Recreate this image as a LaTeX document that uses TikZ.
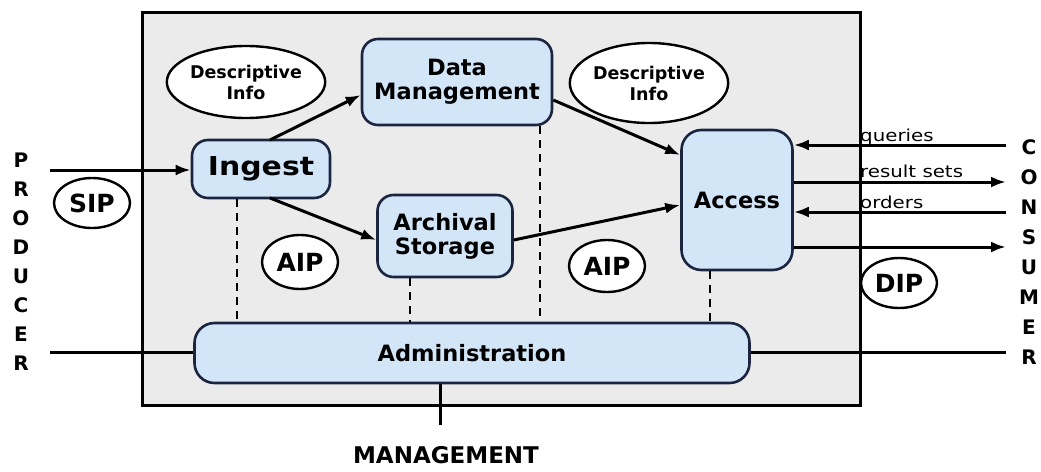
\documentclass[tikz,border=0pt]{standalone}
\usepackage{fontspec}
\setmainfont{DejaVu Sans}
\newfontfamily\lblfont[FakeStretch=1.2]{DejaVu Sans}
\newfontfamily\widebold[FakeStretch=1.15]{DejaVu Sans Bold}
\usetikzlibrary{arrows.meta,shapes.geometric}
\definecolor{framegray}{HTML}{EBEBEB}
\definecolor{boxblue}{HTML}{D2E6F8}
\definecolor{navy}{HTML}{1C2540}
\tikzset{
  fnbox/.style={draw=navy, line width=2.6pt, rounded corners=16pt, fill=boxblue, align=center, font=\fontsize{22.5}{24}\selectfont\bfseries, inner sep=0pt},
  oval/.style={draw=black, ellipse, line width=2.4pt, fill=white, inner sep=0pt, align=center},
  ovtext/.style={font=\fontsize{25}{27}\selectfont\bfseries},
  flow/.style={line width=3pt, -{Latex[length=15pt,width=11pt]}},
  plain/.style={line width=3pt},
  dashline/.style={line width=1.8pt, dash pattern=on 8pt off 6pt},
  lbl/.style={font=\lblfont\fontsize{16.5}{17}\selectfont, inner sep=0pt}
}
\begin{document}
\begin{tikzpicture}[x=1pt,y=-1pt]
\useasboundingbox (0,0) rectangle (1041,471);
\fill[white] (0,0) rectangle (1041,471);
% frame
\draw[line width=3pt, fill=framegray] (142,12) rectangle (860,405);
% ellipses
\node[oval, minimum width=152pt, minimum height=72pt, font=\fontsize{17.5}{21}\selectfont\bfseries] (d1) at (246,82) {Descriptive\\Info};
\node[oval, minimum width=142pt, minimum height=80pt, font=\fontsize{17.5}{21}\selectfont\bfseries] (d2) at (649,83) {Descriptive\\Info};
\node[oval, ovtext, minimum width=76pt, minimum height=54pt] (aip1) at (300,262) {AIP};
\node[oval, ovtext, minimum width=76pt, minimum height=52pt] (aip2) at (607,266) {AIP};
\node[oval, ovtext, minimum width=76pt, minimum height=50pt] (dip) at (899,283) {DIP};
\node[oval, ovtext, minimum width=76pt, minimum height=50pt] (sip) at (92,203) {SIP};
% boxes
\node[fnbox, minimum width=190pt, minimum height=86pt] (dm) at (457,82) {Data\\Management};
\node[fnbox, minimum width=138pt, minimum height=58pt, font=\widebold\fontsize{26}{28}\selectfont] (ing) at (261,169) {Ingest};
\node[fnbox, minimum width=135pt, minimum height=82pt] (as) at (445,236) {Archival\\Storage};
\node[fnbox, minimum width=111pt, minimum height=140pt, rounded corners=20pt] (acc) at (737,200) {Access};
\node[fnbox, minimum width=555pt, minimum height=60pt, rounded corners=20pt] (adm) at (472,353) {Administration};
% dashed connectors
\draw[dashline] (ing.south -| 237,0) -- (adm.north -| 237,0);
\draw[dashline] (as.south -| 410,0) -- (adm.north -| 410,0);
\draw[dashline] (dm.south -| 540,0) -- (adm.north -| 540,0);
\draw[dashline] (acc.south -| 710,0) -- (adm.north -| 710,0);
% flows
\draw[flow] (270,140) -- (dm.west |- 0,95);
\draw[flow] (270,198) -- (as.west |- 0,240);
\draw[flow] (dm.east |- 0,100) -- (acc.west |- 0,155);
\draw[flow] (as.east |- 0,240) -- (acc.west |- 0,205);
% producer side
\coordinate (pin) at (50,170);
\coordinate (pout) at (50,352);
\draw[flow] (pin) -- (ing.west |- pin);
\draw[plain] (pout) -- (adm.west |- pout);
\node[font=\fontsize{20}{29}\selectfont\bfseries, align=center, inner sep=0pt] (prod) at (21,262) {P\\R\\O\\D\\U\\C\\E\\R};
% consumer side
\coordinate (cq) at (1006,145);
\coordinate (cr) at (1006,182);
\coordinate (co) at (1006,212);
\coordinate (cd) at (1006,247);
\coordinate (ca) at (1006,352);
\draw[flow] (cq) -- (acc.east |- cq);
\draw[flow] (acc.east |- cr) -- (cr);
\draw[flow] (co) -- (acc.east |- co);
\draw[flow] (acc.east |- cd) -- (cd);
\draw[plain] (adm.east |- ca) -- (ca);
\node[lbl, anchor=base west] (lq) at (860,141) {queries};
\node[lbl, anchor=base west] (lr) at (860,177) {result sets};
\node[lbl, anchor=base west] (lo) at (860,208) {orders};
\node[font=\fontsize{20}{30}\selectfont\bfseries, align=center, inner sep=0pt, anchor=north] (cons) at (1029,139) {C\\O\\N\\S\\U\\M\\E\\R};
% management
\coordinate (mg) at (440,425);
\draw[plain] (adm.south -| mg) -- (mg);
\node[font=\fontsize{23}{25}\selectfont\bfseries, inner sep=0pt] (mgt) at (446,455) {MANAGEMENT};
\end{tikzpicture}
\end{document}
